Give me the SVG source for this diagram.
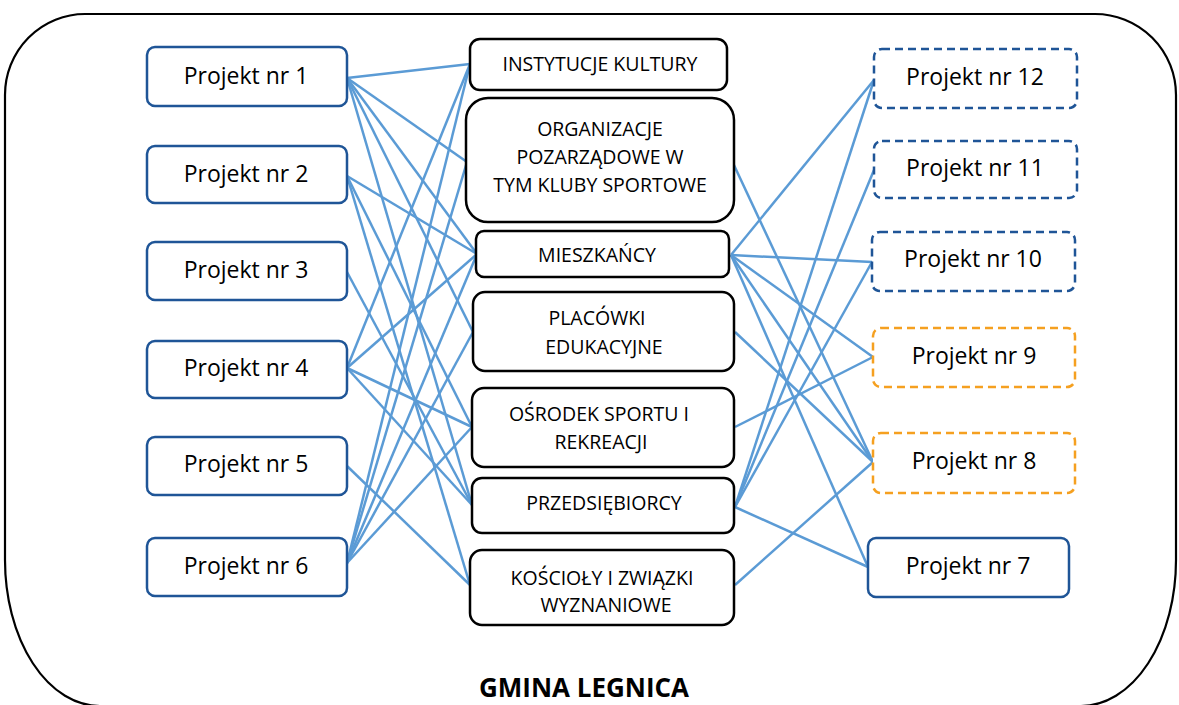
<svg xmlns="http://www.w3.org/2000/svg" width="1179" height="705" viewBox="0 0 1179 705">
<style>
.frame{fill:none;stroke:#000;stroke-width:2.2}
.pl{fill:#fff;stroke:#1f5597;stroke-width:2.5}
.pd{fill:#fff;stroke:#1f5597;stroke-width:2.5;stroke-dasharray:8 5}
.po{fill:#fff;stroke:#f5a020;stroke-width:2.5;stroke-dasharray:8 5}
.c{fill:#fff;stroke:#000;stroke-width:2.5}
.tp{font-family:"Open Sans","Noto Sans",sans-serif;font-size:23px;fill:#000;text-anchor:middle;dominant-baseline:central}
.tc{font-family:"Open Sans","Noto Sans",sans-serif;font-size:19.5px;fill:#000;text-anchor:middle;dominant-baseline:central}
.tg{font-family:"Open Sans","Noto Sans",sans-serif;font-size:26px;font-weight:bold;fill:#000;text-anchor:middle;dominant-baseline:central}
#connectors line{stroke:#5b9bd5;stroke-width:2.5}
</style>
<rect width="1179" height="705" fill="#fff"/>
<path class="frame" d="M85,14 H1095 A81,81 0 0 1 1176,95 V560 A95,146 0 0 1 1081,706 H100 A95,146 0 0 1 5,560 V95 A80,81 0 0 1 85,14 Z"/>
<g id="connectors">
<line x1="347" y1="78" x2="470" y2="64"/>
<line x1="347" y1="78" x2="467" y2="162"/>
<line x1="347" y1="78" x2="477" y2="254"/>
<line x1="347" y1="78" x2="473" y2="332"/>
<line x1="347" y1="78" x2="472" y2="505"/>
<line x1="347" y1="176" x2="477" y2="254"/>
<line x1="347" y1="176" x2="472" y2="427"/>
<line x1="347" y1="176" x2="470" y2="585"/>
<line x1="347" y1="272" x2="472" y2="505"/>
<line x1="347" y1="368" x2="470" y2="64"/>
<line x1="347" y1="368" x2="477" y2="254"/>
<line x1="347" y1="368" x2="472" y2="427"/>
<line x1="347" y1="368" x2="472" y2="505"/>
<line x1="347" y1="466" x2="470" y2="585"/>
<line x1="347" y1="563" x2="470" y2="64"/>
<line x1="347" y1="563" x2="467" y2="162"/>
<line x1="347" y1="563" x2="477" y2="254"/>
<line x1="347" y1="563" x2="473" y2="332"/>
<line x1="347" y1="563" x2="472" y2="427"/>
<line x1="733" y1="163" x2="873" y2="462"/>
<line x1="731" y1="255" x2="874" y2="80"/>
<line x1="731" y1="255" x2="872" y2="262"/>
<line x1="731" y1="255" x2="873" y2="357"/>
<line x1="731" y1="255" x2="873" y2="462"/>
<line x1="731" y1="255" x2="868" y2="567"/>
<line x1="735" y1="332" x2="873" y2="462"/>
<line x1="735" y1="427" x2="873" y2="357"/>
<line x1="735" y1="507" x2="874" y2="80"/>
<line x1="735" y1="507" x2="874" y2="170"/>
<line x1="735" y1="507" x2="872" y2="262"/>
<line x1="735" y1="507" x2="868" y2="567"/>
<line x1="735" y1="585" x2="873" y2="462"/>
</g>
<g id="p1"><rect class="pl" x="147" y="47" width="200" height="59" rx="8"/><text class="tp" x="246" y="75">Projekt nr 1</text></g>
<g id="p2"><rect class="pl" x="147" y="146" width="200" height="57" rx="8"/><text class="tp" x="246" y="173">Projekt nr 2</text></g>
<g id="p3"><rect class="pl" x="147" y="242" width="200" height="58" rx="8"/><text class="tp" x="246" y="269">Projekt nr 3</text></g>
<g id="p4"><rect class="pl" x="147" y="341" width="200" height="57" rx="8"/><text class="tp" x="246" y="367">Projekt nr 4</text></g>
<g id="p5"><rect class="pl" x="147" y="437" width="200" height="58" rx="8"/><text class="tp" x="246" y="463">Projekt nr 5</text></g>
<g id="p6"><rect class="pl" x="147" y="538" width="200" height="58" rx="8"/><text class="tp" x="246" y="565">Projekt nr 6</text></g>
<g id="p12"><rect class="pd" x="874" y="49" width="203" height="59" rx="8"/><text class="tp" x="975" y="76">Projekt nr 12</text></g>
<g id="p11"><rect class="pd" x="874" y="141" width="203" height="57" rx="8"/><text class="tp" x="975" y="167">Projekt nr 11</text></g>
<g id="p10"><rect class="pd" x="872" y="232" width="203" height="59" rx="8"/><text class="tp" x="973" y="258">Projekt nr 10</text></g>
<g id="p9"><rect class="po" x="873" y="328" width="202" height="59" rx="8"/><text class="tp" x="974" y="355">Projekt nr 9</text></g>
<g id="p8"><rect class="po" x="873" y="433" width="202" height="60" rx="8"/><text class="tp" x="974" y="460">Projekt nr 8</text></g>
<g id="p7"><rect class="pl" x="868" y="538" width="201" height="59" rx="8"/><text class="tp" x="968" y="565">Projekt nr 7</text></g>
<g id="instytucje"><rect class="c" x="470" y="39" width="257" height="51" rx="10"/><text class="tc" x="600" y="63">INSTYTUCJE  KULTURY</text></g>
<g id="organizacje"><rect class="c" x="466" y="98" width="268" height="124" rx="22"/><text class="tc" x="600" y="128">ORGANIZACJE</text><text class="tc" x="600" y="156">POZARZĄDOWE W</text><text class="tc" x="600" y="184">TYM KLUBY SPORTOWE</text></g>
<g id="mieszkancy"><rect class="c" x="476" y="231" width="253" height="46" rx="8"/><text class="tc" x="597" y="254">MIESZKAŃCY</text></g>
<g id="placowki"><rect class="c" x="473" y="292" width="261" height="79" rx="12"/><text class="tc" x="597" y="317">PLACÓWKI</text><text class="tc" x="604" y="346">EDUKACYJNE</text></g>
<g id="osrodek"><rect class="c" x="472" y="388" width="262" height="79" rx="12"/><text class="tc" x="599" y="413">OŚRODEK SPORTU I</text><text class="tc" x="601" y="441">REKREACJI</text></g>
<g id="przedsiebiorcy"><rect class="c" x="472" y="478" width="262" height="55" rx="10"/><text class="tc" x="604" y="502">PRZEDSIĘBIORCY</text></g>
<g id="koscioly"><rect class="c" x="470" y="550" width="264" height="75" rx="12"/><text class="tc" x="602" y="577">KOŚCIOŁY I ZWIĄZKI</text><text class="tc" x="606" y="604">WYZNANIOWE</text></g>
<text class="tg" x="584" y="687">GMINA LEGNICA</text>
</svg>
